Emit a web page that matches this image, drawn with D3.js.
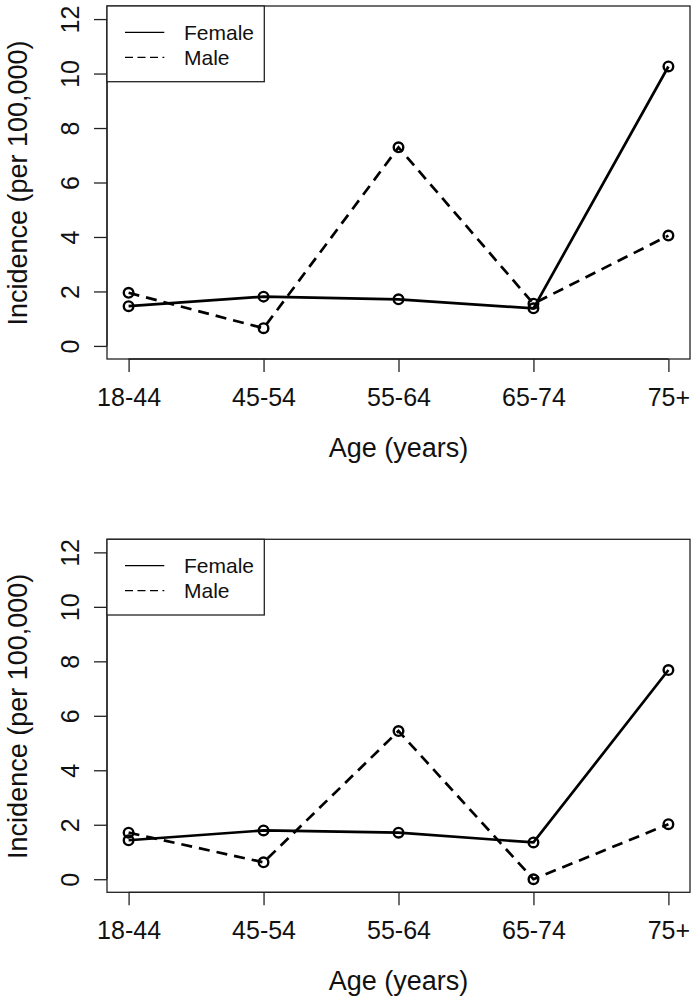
<!DOCTYPE html>
<html>
<head>
<meta charset="utf-8">
<script src="https://cdn.jsdelivr.net/npm/d3@7"></script>
<style>
  html, body { margin: 0; padding: 0; background: #fff; }
  svg { display: block; font-family: "Liberation Sans", Arial, Helvetica, sans-serif; }
</style>
</head>
<body>
<svg id="chart" width="697" height="1000"></svg>
<script>
const ageGroups = ["18-44", "45-54", "55-64", "65-74", "75+"];
const femaleTop = [1.46, 1.81, 1.71, 1.38, 10.26];
const maleTop = [1.95, 0.65, 7.29, 1.55, 4.05];
const femaleBottom = [1.43, 1.79, 1.71, 1.35, 7.68];
const maleBottom = [1.71, 0.62, 5.44, 0.0, 2.02];
const yTicks = [0, 2, 4, 6, 8, 10, 12];
const seriesNames = ["Female", "Male"];
const xTitle = "Age (years)";
const yTitle = "Incidence (per 100,000)";

const svg = d3.select("#chart");
const panels = [
  { top: 6, female: femaleTop, male: maleTop },
  { top: 539.3, female: femaleBottom, male: maleBottom }
];

const plotLeft = 107, plotRight = 690, plotH = 353;
const ink = "#000";
const frameInk = "#222";

panels.forEach(p => {
  const g = svg.append("g");
  const x = d3.scaleLinear().domain([0.84, 5.16]).range([plotLeft, plotRight]);
  const y = d3.scaleLinear().domain([-0.48, 12.48]).range([p.top + plotH, p.top]);

  // frame
  g.append("rect")
    .attr("x", plotLeft).attr("y", p.top)
    .attr("width", plotRight - plotLeft).attr("height", plotH)
    .attr("fill", "none").attr("stroke", frameInk).attr("stroke-width", 1.3);

  // y axis
  const yAxis = d3.axisLeft(y).tickValues(yTicks).tickSize(13).tickPadding(0).tickFormat(d3.format("d"));
  const ya = g.append("g").attr("transform", `translate(${plotLeft},0)`).call(yAxis);
  ya.select(".domain").attr("d", `M0,${y(0)}V${y(12)}`).attr("stroke", frameInk).attr("stroke-width", 1.3);
  ya.selectAll(".tick line").attr("stroke", frameInk).attr("stroke-width", 1.3);
  ya.selectAll(".tick text")
    .attr("x", 0).attr("y", 0).attr("dy", null)
    .attr("transform", "translate(-28,0) rotate(-90)")
    .attr("text-anchor", "middle")
    .attr("font-size", 25).attr("fill", "#111")
    .attr("font-family", "Liberation Sans, Arial, sans-serif");

  // x axis
  const xAxis = d3.axisBottom(x).tickValues([1, 2, 3, 4, 5]).tickSize(13).tickPadding(0)
    .tickFormat(d => ageGroups[d - 1]);
  const xa = g.append("g").attr("transform", `translate(0,${p.top + plotH})`).call(xAxis);
  xa.select(".domain").attr("d", `M${x(1)},0H${x(5)}`).attr("stroke", frameInk).attr("stroke-width", 1.3);
  xa.selectAll(".tick line").attr("stroke", frameInk).attr("stroke-width", 1.3);
  xa.selectAll(".tick text")
    .attr("y", 46.5).attr("dy", null)
    .attr("font-size", 25).attr("fill", "#111")
    .attr("font-family", "Liberation Sans, Arial, sans-serif");

  // axis titles
  g.append("text")
    .attr("x", (plotLeft + plotRight) / 2).attr("y", p.top + 450.5)
    .attr("text-anchor", "middle").attr("font-size", 27).attr("fill", "#111")
    .text(xTitle);
  g.append("text")
    .attr("transform", `translate(26.5,${p.top + 177}) rotate(-90)`)
    .attr("text-anchor", "middle").attr("font-size", 27).attr("fill", "#111")
    .text(yTitle);

  // lines
  const line = d3.line().x((d, i) => x(i + 1)).y(d => y(d));
  const series = [
    { vals: p.female, dash: null },
    { vals: p.male, dash: "11,7" }
  ];
  series.forEach(s => {
    g.append("path").datum(s.vals)
      .attr("d", line).attr("fill", "none").attr("stroke", ink)
      .attr("stroke-width", 2.7).attr("stroke-dasharray", s.dash);
    g.selectAll(null).data(s.vals).enter().append("circle")
      .attr("cx", (d, i) => x(i + 1)).attr("cy", d => y(d)).attr("r", 4.8)
      .attr("fill", "none").attr("stroke", ink).attr("stroke-width", 2.4);
  });

  // legend
  const lg = g.append("g");
  lg.append("rect")
    .attr("x", plotLeft).attr("y", p.top)
    .attr("width", 157.3).attr("height", 75.7)
    .attr("fill", "#fff").attr("stroke", frameInk).attr("stroke-width", 1.3);
  const legendDash = [null, "8,4.5"];
  seriesNames.forEach((name, i) => {
    const ly = p.top + 26.3 + i * 25;
    lg.append("line")
      .attr("x1", 125).attr("x2", 164.3).attr("y1", ly).attr("y2", ly)
      .attr("stroke", ink).attr("stroke-width", 1.3).attr("stroke-dasharray", legendDash[i]);
    lg.append("text")
      .attr("x", 184).attr("y", ly + 7.2)
      .attr("font-size", 21).attr("fill", "#111")
      .text(name);
  });
});
</script>
</body>
</html>
